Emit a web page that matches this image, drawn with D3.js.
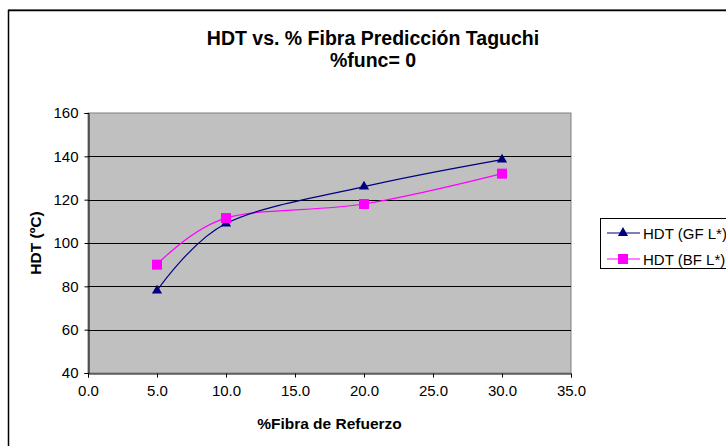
<!DOCTYPE html>
<html><head><meta charset="utf-8">
<script src="https://cdn.jsdelivr.net/npm/d3@7"></script>
<style>body{margin:0;background:#fff}svg{display:block;font-family:"Liberation Sans",Arial,sans-serif}</style>
</head><body>
<svg id="c" width="726" height="446"></svg>
<script>
const xValues = [5, 10, 20, 30];
const gfValues = [78, 109, 126, 138.5];
const bfValues = [90, 111.5, 118, 132];
const seriesNames = ["HDT (GF L*)", "HDT (BF L*)"];
const xTicks = [0, 5, 10, 15, 20, 25, 30, 35];
const yTicks = [40, 60, 80, 100, 120, 140, 160];
const titleLines = ["HDT vs. % Fibra Predicción Taguchi", "%func= 0"];
const xTitle = "%Fibra de Refuerzo";
const yTitle = "HDT (ºC)";

const svg = d3.select("#c");
// chart frame
svg.append("rect").attr("x", 8.5).attr("y", 9.5).attr("width", 800).attr("height", 600)
  .attr("fill", "none").attr("stroke", "#888").attr("stroke-width", 1);
svg.append("rect").attr("x", 8.5).attr("y", 10.5).attr("width", 800).attr("height", 600)
  .attr("fill", "#fff").attr("stroke", "#000").attr("stroke-width", 1.5);

const L = 88, R = 571, T = 113, B = 373;
const x = d3.scaleLinear().domain([0, 35]).range([L, R]);
const y = d3.scaleLinear().domain([40, 160]).range([B, T]);

svg.append("rect").attr("x", L).attr("y", T).attr("width", R - L).attr("height", B - T)
  .attr("fill", "#C0C0C0").attr("stroke", "#808080").attr("stroke-width", 1);

// grid
svg.append("g").selectAll("line").data(yTicks.filter(d => d > 40 && d < 160)).join("line")
  .attr("x1", L).attr("x2", R).attr("y1", d => Math.round(y(d)) + 0.5).attr("y2", d => Math.round(y(d)) + 0.5)
  .attr("stroke", "#000").attr("stroke-width", 1);

// axes
const yAxis = svg.append("g").attr("transform", `translate(${L + 0.5},0)`)
  .call(d3.axisLeft(y).tickValues(yTicks).tickSize(4).tickPadding(6).tickFormat(d3.format("d")));
const xAxis = svg.append("g").attr("transform", `translate(0,${B + 0.5})`)
  .call(d3.axisBottom(x).tickValues(xTicks).tickSize(4).tickPadding(8).tickFormat(d3.format(".1f")));
[yAxis, xAxis].forEach(g => {
  g.select(".domain").attr("stroke", "#000");
  g.selectAll(".tick line").attr("stroke", "#000");
  g.selectAll("text").attr("font-size", 15).attr("fill", "#000")
    .attr("font-family", "'Liberation Sans', Arial, sans-serif");
});

// titles
svg.append("text").attr("x", 373).attr("y", 45).attr("text-anchor", "middle")
  .attr("font-size", 19.5).attr("font-weight", "bold").text(titleLines[0]);
svg.append("text").attr("x", 373).attr("y", 67).attr("text-anchor", "middle")
  .attr("font-size", 19.5).attr("font-weight", "bold").text(titleLines[1]);
svg.append("text").attr("x", (L + R) / 2).attr("y", 429).attr("text-anchor", "middle")
  .attr("font-size", 15.5).attr("font-weight", "bold").text(xTitle);
svg.append("text").attr("transform", `translate(41,${(T + B) / 2}) rotate(-90)`).attr("text-anchor", "middle")
  .attr("font-size", 15.5).attr("font-weight", "bold").text(yTitle);

const line = d3.line().x(d => x(d[0])).y(d => y(d[1])).curve(d3.curveCatmullRom.alpha(0));
const gf = xValues.map((v, i) => [v, gfValues[i]]);
const bf = xValues.map((v, i) => [v, bfValues[i]]);
const gfColor = "#000080", bfColor = "#FF00FF";

svg.append("path").datum(bf).attr("d", line).attr("fill", "none").attr("stroke", bfColor).attr("stroke-width", 1.2);
svg.append("path").datum(gf).attr("d", line).attr("fill", "none").attr("stroke", gfColor).attr("stroke-width", 1.2);

const tri = d3.symbol().type(d3.symbolTriangle).size(45);
svg.append("g").selectAll("path").data(gf).join("path")
  .attr("transform", d => `translate(${x(d[0])},${y(d[1])})`).attr("d", tri).attr("fill", gfColor);
svg.append("g").selectAll("rect").data(bf).join("rect")
  .attr("x", d => x(d[0]) - 5).attr("y", d => y(d[1]) - 5).attr("width", 10).attr("height", 10).attr("fill", bfColor);

// legend
svg.append("rect").attr("x", 600.5).attr("y", 218.5).attr("width", 140).attr("height", 50)
  .attr("fill", "#fff").attr("stroke", "#000").attr("stroke-width", 1);
const leg = [{name: seriesNames[0], color: gfColor, y: 233, m: "tri"}, {name: seriesNames[1], color: bfColor, y: 259, m: "sq"}];
leg.forEach(e => {
  svg.append("line").attr("x1", 607).attr("x2", 640).attr("y1", e.y).attr("y2", e.y).attr("stroke", e.color).attr("stroke-width", 1.2);
  if (e.m === "tri") svg.append("path").attr("transform", `translate(623,${e.y})`).attr("d", tri).attr("fill", e.color);
  else svg.append("rect").attr("x", 618).attr("y", e.y - 5).attr("width", 10).attr("height", 10).attr("fill", e.color);
  svg.append("text").attr("x", 643).attr("y", e.y + 5.5).attr("font-size", 15).text(e.name);
});
</script>
</body></html>
